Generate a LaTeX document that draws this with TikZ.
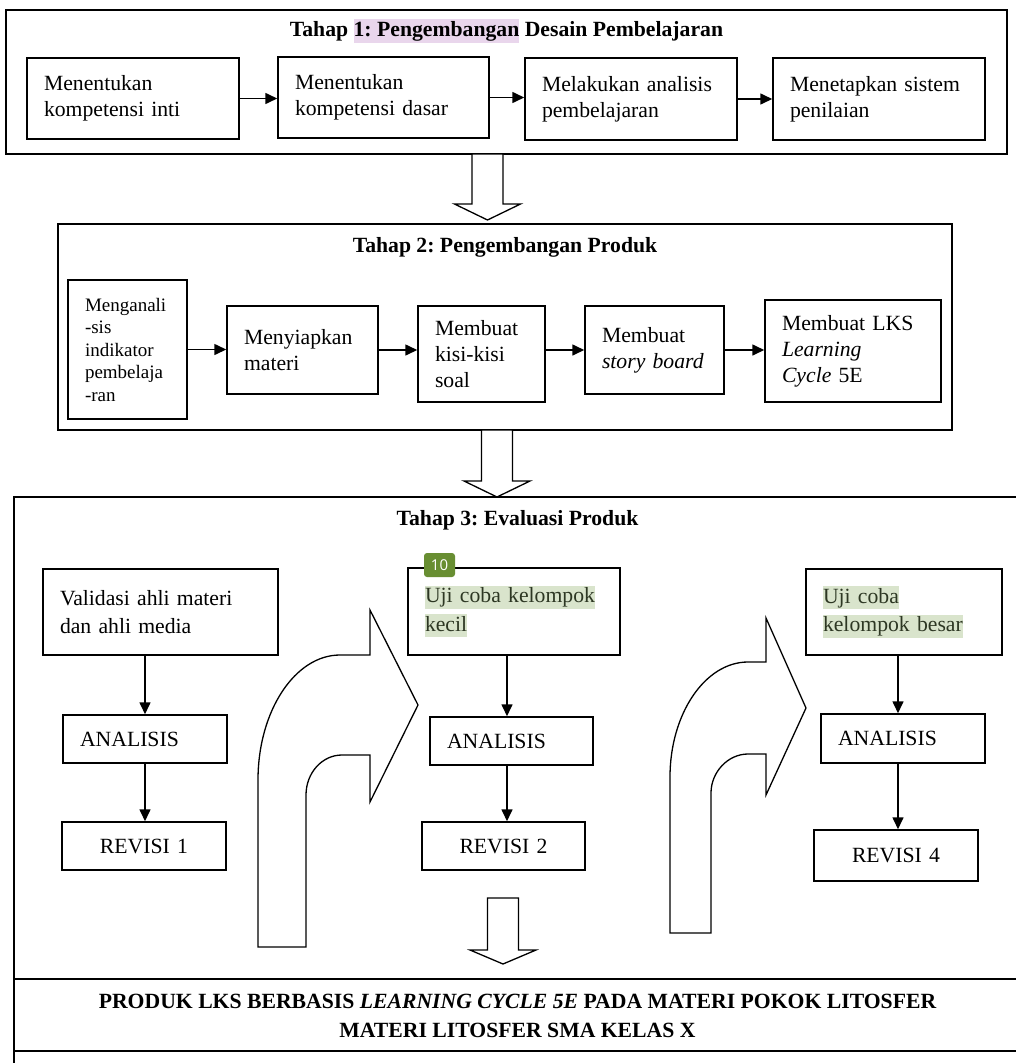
\documentclass[tikz,border=0pt]{standalone}
\usepackage{fontspec}
\setmainfont{Liberation Serif}
\newfontfamily\badgefont{Open Sans}
\usetikzlibrary{calc,arrows.meta}
\frenchspacing
\definecolor{hlpurple}{RGB}{233,214,236}
\definecolor{hlgreen}{RGB}{217,228,204}
\definecolor{badgegreen}{RGB}{104,142,50}
\definecolor{hltext}{RGB}{45,55,35}
\newcommand{\hlp}[1]{{\setlength{\fboxsep}{0pt}\colorbox{hlpurple}{\rule[-0.27em]{0pt}{1.06em}#1}}}
\newcommand{\hlg}[1]{{\setlength{\fboxsep}{0pt}\colorbox{hlgreen}{\rule[-0.27em]{0pt}{1.06em}\color{hltext}#1}}}
\newcommand{\blockdown}[4]{
	\draw[blockarrow] (#1-15.5,#2) -- (#1+15.5,#2) -- (#1+15.5,#3) -- (#1+33,#3) -- (#1,#4) -- (#1-33,#3) -- (#1-15.5,#3) -- cycle;
}
\tikzset{
	stepbox/.style={draw, line width=1.5pt, inner xsep=17pt, inner ysep=0pt, align=left, font=\fontsize{21.7}{26}\selectfont},
	smallbox/.style={stepbox, font=\fontsize{19}{22.5}\selectfont},
	evalbox/.style={stepbox, font=\fontsize{21.7}{28.5}\selectfont},
	revbox/.style={stepbox, align=center},
	stage/.style={draw, line width=1.5pt, inner sep=0pt},
	stagetitle/.style={font=\bfseries\fontsize{21.7}{26}\selectfont},
	flow/.style={line width=1.6pt, -{Triangle[length=12pt,width=11pt]}},
	blockarrow/.style={draw, line width=1.3pt, fill=white, line join=miter},
}

\begin{document}
\begin{tikzpicture}[x=1pt, y=-1pt]
	\fill[white] (0,0) rectangle (1016,1063);
	\useasboundingbox (0,0) rectangle (1016,1063);

	\node[stage, minimum width=1001pt, minimum height=144pt] (tahap1) at (506.5,82) {};
	\node[stagetitle] (t1title) at (506.5,31) {Tahap \hlp{1: Pengembangan} Desain Pembelajaran};
	\node[stepbox, text width=178pt, minimum height=81pt] (ki) at (133,98.5) {Menentukan\\kompetensi inti};
	\node[stepbox, text width=177pt, minimum height=81pt] (kd) at (383.5,97.5) {Menentukan\\kompetensi dasar};
	\node[stepbox, text width=178pt, minimum height=82pt] (analisis) at (631,99) {Melakukan analisis\\pembelajaran};
	\node[stepbox, text width=178pt, minimum height=82pt] (penilaian) at (879,99) {Menetapkan sistem\\penilaian};
	\draw[flow] (ki.east) -- (ki.east -| kd.west);
	\draw[flow] (kd.east) -- (kd.east -| analisis.west);
	\draw[flow] (analisis.east) -- (analisis.east -| penilaian.west);

	\blockdown{487.5}{154}{204}{220}

	\node[stage, minimum width=894pt, minimum height=206pt] (tahap2) at (505,327) {};
	\node[stagetitle] (t2title) at (505,247) {Tahap 2: Pengembangan Produk};
	\node[smallbox, text width=85pt, minimum height=139pt] (indikator) at (127.5,349.5) {Menganali\\-sis\\indikator\\pembelaja\\-ran};
	\node[stepbox, text width=117pt, minimum height=88pt] (materi) at (302.5,350) {Menyiapkan\\materi};
	\node[stepbox, text width=93pt, minimum height=96pt] (kisi) at (481.5,354) {Membuat\\kisi-kisi\\soal};
	\node[stepbox, text width=105pt, minimum height=88pt] (story) at (654.5,350) {Membuat\\\textit{story board}};
	\node[stepbox, text width=142pt, minimum height=102pt] (lks) at (853,351) {Membuat LKS\\\textit{Learning}\\\textit{Cycle} 5E};
	\draw[flow] (indikator.east) -- (indikator.east -| materi.west);
	\draw[flow] (materi.east) -- (materi.east -| kisi.west);
	\draw[flow] (story.west -| kisi.east) -- (story.west);
	\draw[flow] (story.east) -- (story.east -| lks.west);

	\blockdown{497}{430}{481}{497}

	\draw[line width=1.5pt] (1020,497) -- (14,497) -- (14,1066);
	\draw[line width=1.5pt] (14,979) -- (1020,979);
	\draw[line width=1.5pt] (14,1051) -- (1020,1051);
	\node[stagetitle] (t3title) at (517.5,520) {Tahap 3: Evaluasi Produk};

	\node[evalbox, text width=201pt, minimum height=86pt] (validasi) at (160.5,612) {Validasi ahli materi\\dan ahli media};
	\node[stepbox, text width=130pt, minimum height=48pt] (analisis1) at (145,739) {ANALISIS};
	\node[revbox, text width=130pt, minimum height=48pt] (revisi1) at (144,846) {REVISI 1};
	\coordinate (col1) at (145,0);
	\draw[flow] (col1 |- validasi.south) -- (col1 |- analisis1.north);
	\draw[flow] (col1 |- analisis1.south) -- (col1 |- revisi1.north);

	\node[evalbox, text width=178pt, minimum height=87pt] (kecil) at (514,611.5) {\hlg{Uji coba kelompok}\\\hlg{kecil}};
	\node[stepbox, text width=129pt, minimum height=48pt] (analisis2) at (511.5,741) {ANALISIS};
	\node[revbox, text width=129pt, minimum height=48pt] (revisi2) at (503.5,846) {REVISI 2};
	\coordinate (col2) at (507,0);
	\draw[flow] (col2 |- kecil.south) -- (col2 |- analisis2.north);
	\draw[flow] (col2 |- analisis2.south) -- (col2 |- revisi2.north);
	\node[fill=badgegreen, rounded corners=3pt, minimum width=31pt, minimum height=24pt, inner sep=0pt, text=white, font=\badgefont\fontsize{15}{15}\selectfont] (komentar) at (439.5,565) {10};

	\node[evalbox, text width=162pt, minimum height=86pt] (besar) at (904,612) {\hlg{Uji coba}\\\hlg{kelompok besar}};
	\node[stepbox, text width=130pt, minimum height=49pt] (analisis3) at (903,738.5) {ANALISIS};
	\node[revbox, text width=130pt, minimum height=51pt] (revisi4) at (896,855.5) {REVISI 4};
	\coordinate (col3) at (898,0);
	\draw[flow] (col3 |- besar.south) -- (col3 |- analisis3.north);
	\draw[flow] (col3 |- analisis3.south) -- (col3 |- revisi4.north);

	\draw[blockarrow] (258,947) -- (258,780) .. controls (258,711) and (295,655) .. (340,655) -- (370,655) -- (370,610) -- (418,705) -- (370,802) -- (370,755) -- (342,755) .. controls (322,755) and (306,773) .. (306,795) -- (306,947) -- cycle;
	\draw[blockarrow] (670,933) -- (670,777) .. controls (670,714) and (705,662) .. (748,662) -- (766,662) -- (766,618) -- (806,708) -- (766,795) -- (766,754) -- (748,754) .. controls (728,754) and (711,772) .. (711,793) -- (711,933) -- cycle;

	\blockdown{503}{898}{950}{964}

	\node[stagetitle, align=center, font=\bfseries\fontsize{21.7}{29}\selectfont] (produk) at (517.5,1016) {PRODUK LKS BERBASIS \textit{LEARNING CYCLE 5E} PADA MATERI POKOK LITOSFER\\MATERI LITOSFER SMA KELAS X};
\end{tikzpicture}
\end{document}
